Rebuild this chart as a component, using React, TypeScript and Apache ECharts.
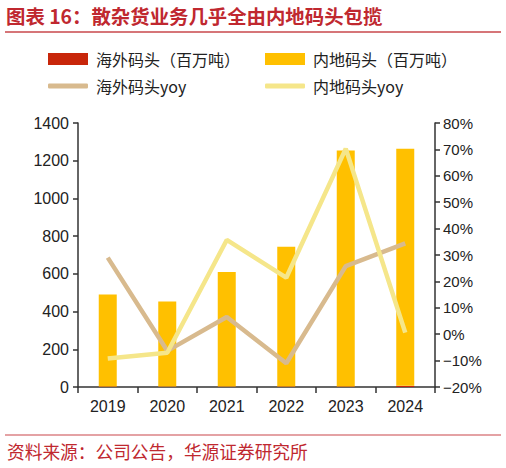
import React, { useEffect, useRef } from "react";
import * as echarts from "echarts";

const years = ["2019", "2020", "2021", "2022", "2023", "2024"];
const overseasVol = [3, 2, 2, 3, 3, 6];
const domesticVol = [488, 452, 608, 741, 1251, 1258];
const overseasYoy = [29.0, -6.3, 6.5, -11.0, 25.8, 34.4];
const domesticYoy = [-9.2, -7.0, 35.7, 21.4, 70.3, 0.6];

const nameOvVol = "海外码头（百万吨）";
const nameDoVol = "内地码头（百万吨）";
const nameOvYoy = "海外码头yoy";
const nameDoYoy = "内地码头yoy";

const RED = "#C0282F";
const FONT = "'Noto Sans CJK SC', 'Noto Sans', sans-serif";
const NUMFONT = "'Liberation Sans', Arial, sans-serif";

export default function App() {
  const ref = useRef<HTMLDivElement>(null);
  useEffect(() => {
    document.body.style.margin = "0";
    const chart = echarts.init(ref.current!, null, { renderer: "svg" });
    const legendText = { fontSize: 16, color: "#222", fontFamily: FONT, padding: [0, 0, 0, 3] };
    chart.setOption({
      animation: false,
      backgroundColor: "#fff",
      textStyle: { fontFamily: FONT },
      legend: [
        { data: [nameOvVol], left: 48, top: 51, padding: 0, itemWidth: 40, itemHeight: 12, icon: "rect", textStyle: legendText },
        { data: [nameDoVol], left: 265, top: 51, padding: 0, itemWidth: 40, itemHeight: 12, icon: "rect", textStyle: legendText },
        { data: [nameOvYoy], left: 48, top: 78, padding: 0, itemWidth: 40, itemHeight: 5, icon: "roundRect", textStyle: legendText },
        { data: [nameDoYoy], left: 265, top: 78, padding: 0, itemWidth: 40, itemHeight: 5, icon: "roundRect", textStyle: legendText },
      ],
      grid: { left: 78, right: 71, top: 123, bottom: 81, containLabel: false },
      xAxis: {
        type: "category",
        data: years,
        boundaryGap: true,
        axisLine: { lineStyle: { color: "#333", width: 1.5 } },
        axisTick: { show: true, alignWithLabel: false, length: 6, lineStyle: { color: "#333", width: 1.5 } },
        axisLabel: { fontSize: 16, color: "#222", margin: 11, fontFamily: NUMFONT },
      },
      yAxis: [
        {
          type: "value",
          min: 0,
          max: 1400,
          interval: 200,
          splitLine: { show: false },
          axisLine: { show: true, lineStyle: { color: "#333", width: 1.5 } },
          axisTick: { show: true, length: 5, lineStyle: { color: "#333", width: 1.5 } },
          axisLabel: { fontSize: 16, color: "#222", margin: 9, fontFamily: NUMFONT, formatter: (v: number) => String(v) },
        },
        {
          type: "value",
          min: -20,
          max: 80,
          interval: 10,
          position: "right",
          splitLine: { show: false },
          axisLine: { show: true, lineStyle: { color: "#333", width: 1.5 } },
          axisTick: { show: true, length: 5, lineStyle: { color: "#333", width: 1.5 } },
          axisLabel: {
            fontSize: 15,
            color: "#222",
            margin: 8,
            fontFamily: NUMFONT,
            formatter: (v: number) => `${v}%`.replace("-", "−"),
          },
        },
      ],
      series: [
        {
          name: nameOvVol,
          type: "bar",
          stack: "vol",
          data: overseasVol,
          barWidth: 18,
          itemStyle: { color: "#C8260A" },
        },
        {
          name: nameDoVol,
          type: "bar",
          stack: "vol",
          data: domesticVol,
          barWidth: 18,
          itemStyle: { color: "#FFC000" },
        },
        {
          name: nameOvYoy,
          type: "line",
          yAxisIndex: 1,
          data: overseasYoy,
          symbol: "none",
          lineStyle: { color: "#D8BA8E", width: 4.5 },
          itemStyle: { color: "#D8BA8E" },
        },
        {
          name: nameDoYoy,
          type: "line",
          yAxisIndex: 1,
          data: domesticYoy,
          symbol: "none",
          lineStyle: { color: "#F5E68A", width: 4.5 },
          itemStyle: { color: "#F5E68A" },
        },
      ],
      graphic: [
        {
          type: "text",
          left: 6,
          top: 6,
          style: {
            text: "图表 16：散杂货业务几乎全由内地码头包揽",
            fontSize: 19.4,
            fontWeight: "bold",
            fill: RED,
            fontFamily: FONT,
          },
        },
        {
          type: "line",
          shape: { x1: 5, y1: 32, x2: 501, y2: 32 },
          style: { stroke: "#C9474B", lineWidth: 1.5 },
        },
        {
          type: "line",
          shape: { x1: 5, y1: 435, x2: 501, y2: 435 },
          style: { stroke: "#C9474B", lineWidth: 1.2 },
        },
        {
          type: "text",
          left: 7,
          top: 442,
          style: {
            text: "资料来源：公司公告，华源证券研究所",
            fontSize: 17.7,
            fill: RED,
            fontFamily: FONT,
          },
        },
      ],
    });
    return () => chart.dispose();
  }, []);
  return <div ref={ref} style={{ width: 506, height: 468 }} />;
}
